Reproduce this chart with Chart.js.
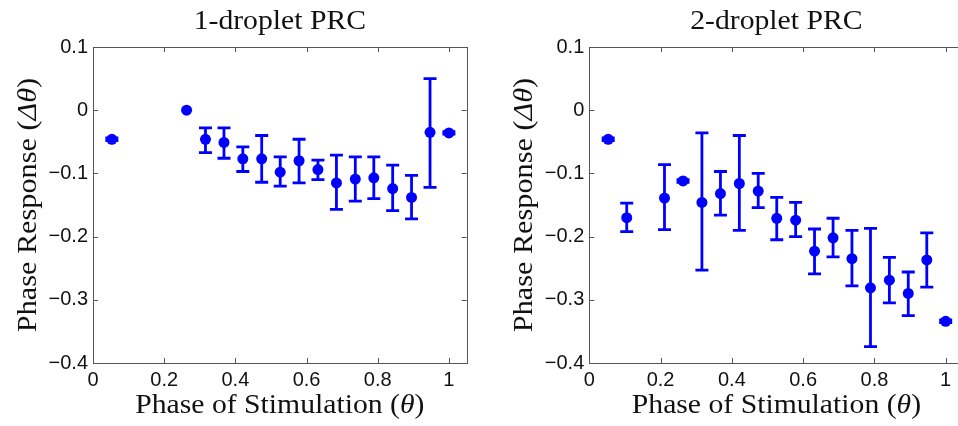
<!DOCTYPE html>
<html>
<head>
<meta charset="utf-8">
<script src="https://cdn.jsdelivr.net/npm/chart.js@4.4.1/dist/chart.umd.min.js"></script>
<style>
  html, body { margin: 0; padding: 0; background: #fff; overflow: hidden; }
  .panel { position: absolute; top: 0; height: 426px; overflow: hidden; }
  #p1 { left: 0; width: 479px; }
  #p2 { left: 479px; width: 479px; }
</style>
</head>
<body>
<div class="panel" id="p1"><canvas id="prc1" width="479" height="426"></canvas></div>
<div class="panel" id="p2"><canvas id="prc2" width="500" height="426"></canvas></div>
<script>
// --- 1-droplet PRC: phase of stimulation, mean response, error bar ends ---
const phase1 = [0.053, 0.263, 0.316, 0.368, 0.421, 0.474, 0.526, 0.579, 0.632, 0.684, 0.737, 0.789, 0.842, 0.895, 0.947, 1.0];
const mean1  = [-0.046, 0.000, -0.046, -0.051, -0.077, -0.077, -0.098, -0.080, -0.094, -0.115, -0.109, -0.107, -0.124, -0.138, -0.035, -0.036];
const upper1 = [-0.044, null, -0.028, -0.028, -0.058, -0.040, -0.074, -0.046, -0.079, -0.071, -0.074, -0.074, -0.087, -0.103, 0.050, -0.034];
const lower1 = [-0.048, null, -0.067, -0.076, -0.097, -0.114, -0.120, -0.115, -0.110, -0.157, -0.144, -0.140, -0.159, -0.172, -0.122, -0.038];

// --- 2-droplet PRC ---
const phase2 = [0.053, 0.105, 0.211, 0.263, 0.316, 0.368, 0.421, 0.474, 0.526, 0.579, 0.632, 0.684, 0.737, 0.789, 0.842, 0.895, 0.947, 1.0];
const mean2  = [-0.046, -0.170, -0.139, -0.112, -0.146, -0.132, -0.116, -0.128, -0.171, -0.174, -0.223, -0.202, -0.235, -0.281, -0.269, -0.290, -0.237, -0.334];
const upper2 = [-0.044, -0.147, -0.086, -0.110, -0.036, -0.097, -0.040, -0.100, -0.138, -0.146, -0.188, -0.171, -0.190, -0.187, -0.233, -0.256, -0.194, -0.332];
const lower2 = [-0.048, -0.192, -0.189, -0.114, -0.253, -0.166, -0.190, -0.154, -0.205, -0.200, -0.259, -0.232, -0.278, -0.374, -0.305, -0.325, -0.280, -0.336];

const xTicks = [0, 0.2, 0.4, 0.6, 0.8, 1];
const yTicks = [0.1, 0, -0.1, -0.2, -0.3, -0.4];

const BLUE = '#0000ff';
const AXIS = '#555555';
const SERIF = '27px "Liberation Serif", "Times New Roman", serif';
const SERIF_IT = 'italic 27px "Liberation Serif", "Times New Roman", serif';

// matlab-ish tick label: minus sign, no trailing zeros
const fmt = v => v === 0 ? '0' : (v < 0 ? '\u2212' + String(Math.abs(v)) : String(v));

// error bars with caps, drawn under the markers
const errorBars = {
  id: 'errorBars',
  beforeDatasetsDraw(chart) {
    const { ctx, scales: { x, y } } = chart;
    ctx.save();
    ctx.strokeStyle = BLUE;
    ctx.lineWidth = 2.8;
    chart.data.datasets.forEach(ds => {
      ds.data.forEach((p, i) => {
        const hi = ds.errHigh[i], lo = ds.errLow[i];
        if (hi == null || lo == null) return;
        const px = x.getPixelForValue(p.x);
        const y1 = y.getPixelForValue(hi);
        const y2 = y.getPixelForValue(lo);
        ctx.beginPath();
        ctx.moveTo(px, y1); ctx.lineTo(px, y2);
        ctx.moveTo(px - 6.5, y1); ctx.lineTo(px + 6.5, y1);
        ctx.moveTo(px - 6.5, y2); ctx.lineTo(px + 6.5, y2);
        ctx.stroke();
      });
    });
    ctx.restore();
  }
};

// full box with inward ticks on all four sides
const matlabBox = {
  id: 'matlabBox',
  afterDraw(chart) {
    const { ctx, chartArea: a, scales: { x, y } } = chart;
    ctx.save();
    ctx.strokeStyle = AXIS;
    ctx.lineWidth = 1;
    ctx.strokeRect(Math.round(a.left) + 0.5, Math.round(a.top) + 0.5,
                   Math.round(a.right - a.left), Math.round(a.bottom - a.top));
    ctx.beginPath();
    xTicks.forEach(v => {
      const px = Math.round(x.getPixelForValue(v)) + 0.5;
      ctx.moveTo(px, a.bottom); ctx.lineTo(px, a.bottom - 5);
      ctx.moveTo(px, a.top); ctx.lineTo(px, a.top + 5);
    });
    yTicks.forEach(v => {
      const py = Math.round(y.getPixelForValue(v)) + 0.5;
      ctx.moveTo(a.left, py); ctx.lineTo(a.left + 5, py);
      ctx.moveTo(a.right, py); ctx.lineTo(a.right - 5, py);
    });
    ctx.stroke();
    ctx.restore();
  }
};

// draw a run of text pieces (some italic), centred on 0, widened a little like CM fonts
function richText(ctx, parts, sx) {
  const widths = parts.map(p => { ctx.font = p.it ? SERIF_IT : SERIF; return ctx.measureText(p.t).width; });
  const total = widths.reduce((s, w) => s + w, 0);
  ctx.scale(sx, 1);
  let cx = -total / 2;
  parts.forEach((p, i) => {
    ctx.font = p.it ? SERIF_IT : SERIF;
    ctx.fillText(p.t, cx, 0);
    cx += widths[i];
  });
}

const axisTitles = {
  id: 'axisTitles',
  afterDraw(chart, args, opts) {
    const { ctx, chartArea: a } = chart;
    const mid = (a.left + a.right) / 2;
    ctx.save();
    ctx.fillStyle = '#111';
    ctx.textAlign = 'left';
    ctx.textBaseline = 'alphabetic';

    ctx.save();
    ctx.translate(mid, 29);
    richText(ctx, [{ t: opts.title }], 1.1);
    ctx.restore();

    ctx.save();
    ctx.translate(mid, 413);
    richText(ctx, [{ t: 'Phase of Stimulation (' }, { t: '\u03b8', it: true }, { t: ')' }], 1.1);
    ctx.restore();

    ctx.save();
    ctx.translate(a.left - 57, (a.top + a.bottom) / 2);
    ctx.rotate(-Math.PI / 2);
    richText(ctx, [{ t: 'Phase Response (' }, { t: '\u0394\u03b8', it: true }, { t: ')' }], 1.12);
    ctx.restore();

    ctx.restore();
  }
};

function makePRC(canvasId, title, xs, ys, hi, lo, yAxisWidth, padRight) {
  return new Chart(document.getElementById(canvasId), {
    type: 'scatter',
    data: {
      datasets: [{
        data: xs.map((v, i) => ({ x: v, y: ys[i] })),
        errHigh: hi,
        errLow: lo,
        backgroundColor: BLUE,
        borderWidth: 0,
        pointRadius: 5.5,
        pointHoverRadius: 5.5
      }]
    },
    options: {
      responsive: false,
      animation: false,
      devicePixelRatio: 1,
      layout: { padding: { top: 47, right: padRight, left: 0, bottom: 0 } },
      plugins: {
        legend: { display: false },
        tooltip: { enabled: false },
        axisTitles: { title }
      },
      scales: {
        x: {
          type: 'linear',
          min: 0,
          max: 1.05,
          afterBuildTicks: s => { s.ticks = xTicks.map(v => ({ value: v })); },
          afterFit: s => { s.height = 63; },
          grid: { display: false, drawTicks: false },
          border: { display: false },
          ticks: {
            padding: 5,
            maxRotation: 0,
            color: '#111',
            font: { family: '"Liberation Sans", Arial, sans-serif', size: 20 },
            callback: v => fmt(v)
          }
        },
        y: {
          type: 'linear',
          min: -0.4,
          max: 0.1,
          afterBuildTicks: s => { s.ticks = yTicks.map(v => ({ value: v })); },
          afterFit: s => { s.width = yAxisWidth; },
          grid: { display: false, drawTicks: false },
          border: { display: false },
          ticks: {
            padding: 5,
            color: '#111',
            font: { family: '"Liberation Sans", Arial, sans-serif', size: 20 },
            callback: v => fmt(v)
          }
        }
      }
    },
    plugins: [errorBars, matlabBox, axisTitles]
  });
}

makePRC('prc1', '1-droplet PRC', phase1, mean1, upper1, lower1, 93, 12.3);
makePRC('prc2', '2-droplet PRC', phase2, mean2, upper2, lower2, 110.3, 15.5);
</script>
</body>
</html>
